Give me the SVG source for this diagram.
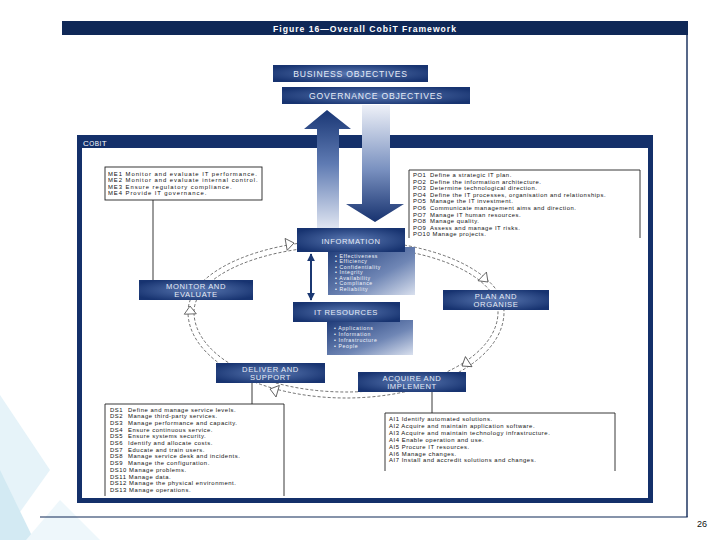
<svg xmlns="http://www.w3.org/2000/svg" width="720" height="540" viewBox="0 0 720 540">
<defs>
<radialGradient id="gBox" cx="0.5" cy="0.5" r="0.6">
<stop offset="0" stop-color="#5a78b2"/>
<stop offset="1" stop-color="#173370"/>
</radialGradient>
<linearGradient id="gList" x1="0" y1="0" x2="1" y2="1">
<stop offset="0" stop-color="#1d3a78"/>
<stop offset="0.6" stop-color="#6f86b5"/>
<stop offset="1" stop-color="#d9e0ee"/>
</linearGradient>
<linearGradient id="gUp" x1="0" y1="0" x2="0" y2="1">
<stop offset="0" stop-color="#1a3775"/>
<stop offset="0.45" stop-color="#5f7bb3"/>
<stop offset="1" stop-color="#e3e8f3"/>
</linearGradient>
<linearGradient id="gDown" x1="0" y1="0" x2="0" y2="1">
<stop offset="0" stop-color="#eef1f8"/>
<stop offset="0.55" stop-color="#7a91c0"/>
<stop offset="1" stop-color="#17326f"/>
</linearGradient>
<marker id="ah" viewBox="0 0 10 10" refX="9" refY="5" markerWidth="4" markerHeight="4" orient="auto-start-reverse">
<path d="M0,0 L10,5 L0,10 z" fill="#1b3872"/>
</marker>
<style>
.nav{fill:url(#gBox)}
.lbl{font-family:"Liberation Sans",Arial,sans-serif;font-size:7.6px;fill:#e6ecf7;text-anchor:middle;letter-spacing:0.6px}
.hdr{font-family:"Liberation Sans",Arial,sans-serif;font-size:8.6px;fill:#e6ecf7;text-anchor:middle;letter-spacing:0.8px}
.lst{font-family:"Liberation Sans",Arial,sans-serif;font-size:5.9px;letter-spacing:0.55px;fill:#111}
.me{letter-spacing:0.95px}
.bul{font-family:"Liberation Sans",Arial,sans-serif;font-size:5.2px;letter-spacing:0.6px;fill:#f2f5fb}
.box{fill:#fff;stroke:#222;stroke-width:0.9}
.obox{fill:none;stroke:#222;stroke-width:0.9}
.cyc{fill:none;stroke:#333;stroke-width:0.7;stroke-dasharray:3 2}
.head{fill:#fff;stroke:#333;stroke-width:0.7}
.conn{stroke:#222;stroke-width:0.9}
</style>
</defs>
<rect width="720" height="540" fill="#ffffff"/>
<polygon points="0,395 50,470 0,540" fill="#e6f3f9"/>
<polygon points="0,470 34,540 0,540" fill="#d3eaf3"/>
<polygon points="26,540 60,500 100,540" fill="#eef7fb"/>
<g id="frame">
<rect x="62" y="21" width="626" height="14" fill="#0f2857"/>
<text x="365" y="31.5" font-family="Liberation Sans, Arial, sans-serif" font-size="8.6" font-weight="bold" fill="#ffffff" text-anchor="middle" letter-spacing="1">Figure 16—Overall CobiT Framework</text>
<line x1="687" y1="35" x2="687" y2="517" stroke="#0f2857" stroke-width="1.4"/>
<line x1="40" y1="517" x2="687.7" y2="517" stroke="#0f2857" stroke-width="1.2"/>
</g>
<g id="cobit">
<rect x="79.5" y="137.5" width="571" height="363" fill="none" stroke="#14306a" stroke-width="5"/>
<rect x="77" y="135" width="576" height="13" fill="#14306a"/>
<text x="83" y="145.5" font-family="Liberation Sans, Arial, sans-serif" font-size="8" fill="#ffffff" letter-spacing="0.5">C<tspan font-size="6.4">OBI</tspan>T</text>
</g>
<g id="business">
<rect x="273" y="65" width="155" height="17" class="nav"/>
<text x="350.5" y="76.5" class="hdr">BUSINESS OBJECTIVES</text>
</g>
<g id="governance">
<rect x="282" y="87" width="188" height="17" class="nav"/>
<text x="376" y="98.5" class="hdr">GOVERNANCE OBJECTIVES</text>
</g>
<g id="connectors">
<polygon points="327,110 351,129 339,129 339,230 317,230 317,129 304,129" fill="url(#gUp)"/>
<polygon points="362,105 390,105 390,204 404,204 375,222 346,204 362,204" fill="url(#gDown)"/>
<path class="cyc" d="M188,312 A158,72 0 0 1 504,312 A158,86 0 0 1 188,312 Z"/>
<path class="cyc" d="M194,312 A152,66 0 0 1 498,312 A152,80 0 0 1 194,312 Z"/>
<polygon class="head" points="0,0 -8,-6 -8,6" transform="translate(462,366) rotate(147)"/>
<polygon class="head" points="0,0 -8,-6 -8,6" transform="translate(270,389) rotate(196)"/>
<polygon class="head" points="0,0 -8,-6 -8,6" transform="translate(190,306) rotate(268)"/>
<polygon class="head" points="0,0 -8,-6 -8,6" transform="translate(294,243) rotate(-10)"/>
<polygon class="head" points="0,0 -8,-6 -8,6" transform="translate(488,282) rotate(44)"/>
<line class="conn" x1="153" y1="200" x2="153" y2="280"/>
<line class="conn" x1="252" y1="383" x2="252" y2="404"/>
<line class="conn" x1="432" y1="392" x2="432" y2="413"/>
<line x1="311" y1="254" x2="311" y2="300" stroke="#1b3872" stroke-width="2" marker-start="url(#ah)" marker-end="url(#ah)"/>
</g>
<g id="information">
<rect x="328" y="247" width="87" height="48" fill="url(#gList)"/>
<rect x="297" y="228" width="108" height="24" class="nav"/>
<text x="351" y="244" class="lbl">INFORMATION</text>
<text class="bul" x="335" y="257.5">• Effectiveness</text>
<text class="bul" x="335" y="263">• Efficiency</text>
<text class="bul" x="335" y="268.5">• Confidentiality</text>
<text class="bul" x="335" y="274">• Integrity</text>
<text class="bul" x="335" y="279.5">• Availability</text>
<text class="bul" x="335" y="285">• Compliance</text>
<text class="bul" x="335" y="290.5">• Reliability</text>
</g>
<g id="itresources">
<rect x="327" y="320" width="86" height="35" fill="url(#gList)"/>
<rect x="293" y="302" width="107" height="20" class="nav"/>
<text x="346" y="315" class="lbl">IT RESOURCES</text>
<text class="bul" x="334" y="330">• Applications</text>
<text class="bul" x="334" y="336">• Information</text>
<text class="bul" x="334" y="342">• Infrastructure</text>
<text class="bul" x="334" y="348">• People</text>
</g>
<g id="monitor">
<rect x="139" y="280" width="114" height="20" class="nav"/>
<text x="196" y="288.5" class="lbl">MONITOR AND</text>
<text x="196" y="296.5" class="lbl">EVALUATE</text>
</g>
<g id="plan">
<rect x="443" y="290" width="106" height="20" class="nav"/>
<text x="496" y="298.5" class="lbl">PLAN AND</text>
<text x="496" y="306.5" class="lbl">ORGANISE</text>
</g>
<g id="deliver">
<rect x="216" y="363" width="109" height="20" class="nav"/>
<text x="270.5" y="371.5" class="lbl">DELIVER AND</text>
<text x="270.5" y="379.5" class="lbl">SUPPORT</text>
</g>
<g id="acquire">
<rect x="358" y="372" width="108" height="20" class="nav"/>
<text x="412" y="380.5" class="lbl">ACQUIRE AND</text>
<text x="412" y="388.5" class="lbl">IMPLEMENT</text>
</g>
<g id="me-list">
<rect x="105" y="167" width="157" height="33" class="box"/>
<text class="lst me" x="108" y="175.5">ME1 Monitor and evaluate IT performance.</text>
<text class="lst me" x="108" y="182">ME2 Monitor and evaluate internal control.</text>
<text class="lst me" x="108" y="188.5">ME3 Ensure regulatory compliance.</text>
<text class="lst me" x="108" y="195">ME4 Provide IT governance.</text>
</g>
<g id="po-list">
<rect x="409" y="170" width="231" height="68" fill="#fff"/>
<path class="obox" d="M409,238 V170 H640 V238"/>
<text class="lst" x="413" y="177">PO1</text><text class="lst" x="430" y="177">Define a strategic IT plan.</text>
<text class="lst" x="413" y="183.6">PO2</text><text class="lst" x="430" y="183.6">Define the information architecture.</text>
<text class="lst" x="413" y="190.2">PO3</text><text class="lst" x="430" y="190.2">Determine technological direction.</text>
<text class="lst" x="413" y="196.8">PO4</text><text class="lst" x="430" y="196.8">Define the IT processes, organisation and relationships.</text>
<text class="lst" x="413" y="203.4">PO5</text><text class="lst" x="430" y="203.4">Manage the IT investment.</text>
<text class="lst" x="413" y="210">PO6</text><text class="lst" x="430" y="210">Communicate management aims and direction.</text>
<text class="lst" x="413" y="216.6">PO7</text><text class="lst" x="430" y="216.6">Manage IT human resources.</text>
<text class="lst" x="413" y="223.2">PO8</text><text class="lst" x="430" y="223.2">Manage quality.</text>
<text class="lst" x="413" y="229.8">PO9</text><text class="lst" x="430" y="229.8">Assess and manage IT risks.</text>
<text class="lst" x="413" y="236.4">PO10 Manage projects.</text>
</g>
<g id="ds-list">
<rect x="105" y="404" width="179" height="92" fill="#fff"/>
<path class="obox" d="M105,496 V404 H284 V496"/>
<text class="lst" x="110" y="411.5">DS1</text><text class="lst" x="128" y="411.5">Define and manage service levels.</text>
<text class="lst" x="110" y="418.2">DS2</text><text class="lst" x="128" y="418.2">Manage third-party services.</text>
<text class="lst" x="110" y="424.9">DS3</text><text class="lst" x="128" y="424.9">Manage performance and capacity.</text>
<text class="lst" x="110" y="431.6">DS4</text><text class="lst" x="128" y="431.6">Ensure continuous service.</text>
<text class="lst" x="110" y="438.3">DS5</text><text class="lst" x="128" y="438.3">Ensure systems security.</text>
<text class="lst" x="110" y="445">DS6</text><text class="lst" x="128" y="445">Identify and allocate costs.</text>
<text class="lst" x="110" y="451.7">DS7</text><text class="lst" x="128" y="451.7">Educate and train users.</text>
<text class="lst" x="110" y="458.4">DS8</text><text class="lst" x="128" y="458.4">Manage service desk and incidents.</text>
<text class="lst" x="110" y="465.1">DS9</text><text class="lst" x="128" y="465.1">Manage the configuration.</text>
<text class="lst" x="110" y="471.8">DS10 Manage problems.</text>
<text class="lst" x="110" y="478.5">DS11 Manage data.</text>
<text class="lst" x="110" y="485.2">DS12 Manage the physical environment.</text>
<text class="lst" x="110" y="491.9">DS13 Manage operations.</text>
</g>
<g id="ai-list">
<rect x="385" y="413" width="230" height="58" fill="#fff"/>
<path class="obox" d="M385,471 V413 H615 V471"/>
<text class="lst" x="389" y="421">AI1 Identify automated solutions.</text>
<text class="lst" x="389" y="427.9">AI2 Acquire and maintain application software.</text>
<text class="lst" x="389" y="434.8">AI3 Acquire and maintain technology infrastructure.</text>
<text class="lst" x="389" y="441.7">AI4 Enable operation and use.</text>
<text class="lst" x="389" y="448.6">AI5 Procure IT resources.</text>
<text class="lst" x="389" y="455.5">AI6 Manage changes.</text>
<text class="lst" x="389" y="462.4">AI7 Install and accredit solutions and changes.</text>
</g>
<text x="697" y="527" font-family="Liberation Sans, Arial, sans-serif" font-size="9" fill="#111">26</text>
</svg>
